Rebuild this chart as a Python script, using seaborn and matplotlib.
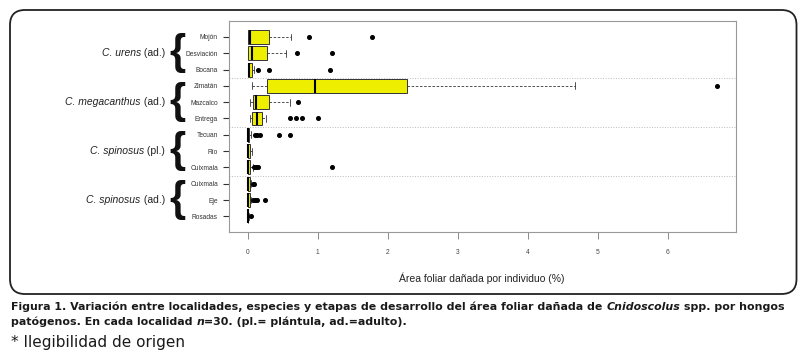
import seaborn as sns
import matplotlib.pyplot as plt
import matplotlib.patches as mpatches
import matplotlib.transforms as mtransforms
import pandas as pd

# localidades (de arriba hacia abajo) y grupo al que pertenecen
localidades = ["Mojón", "Desviación", "Bocana",
               "Zimatán", "Mazcalco", "Entrega",
               "Tecuan", "Río", "Cuixmala",
               "Cuixmala", "Eje", "Rosadas"]
grupos = ["C. urens", "C. megacanthus", "C. spinosus", "C. spinosus"]
etapas = ["(ad.)", "(ad.)", "(pl.)", "(ad.)"]
n_por_grupo = [3, 3, 3, 3]

# área foliar dañada (%) estimada por localidad
mojon = [0.0, 0.0, 0.002, 0.005, 0.01, 0.02, 0.03, 0.08, 0.18, 0.30, 0.62, 0.87, 1.77]
desviacion = [0.0, 0.0, 0.003, 0.005, 0.02, 0.04, 0.055, 0.1, 0.2, 0.27, 0.55, 0.70, 1.21]
bocana = [0.0, 0.0, 0.003, 0.006, 0.01, 0.012, 0.014, 0.017, 0.02,
          0.03, 0.04, 0.05, 0.06, 0.09, 0.14, 0.30, 1.18]
zimatan = [0.064, 0.15, 0.27, 0.6, 0.96, 1.6, 2.275, 4.67, 6.7]
mazcalco = [0.036, 0.05, 0.07, 0.09, 0.12, 0.2, 0.31, 0.61, 0.72]
entrega = [0.03, 0.035, 0.04, 0.045, 0.05, 0.055, 0.07, 0.09, 0.1, 0.11, 0.125,
           0.14, 0.16, 0.18, 0.2, 0.21, 0.26, 0.61, 0.69, 0.78, 1.0]
tecuan = [0.0, 0.0, 0.0, 0.0, 0.0, 0.0, 0.0, 0.001, 0.002, 0.003, 0.004, 0.005, 0.006,
          0.008, 0.01, 0.012, 0.015, 0.018, 0.02, 0.045, 0.10, 0.13, 0.17, 0.45, 0.61]
rio = [0.0, 0.0, 0.0, 0.005, 0.01, 0.015, 0.025, 0.04, 0.06]
cuixmala_pl = [0.0, 0.0, 0.0, 0.0, 0.0, 0.0, 0.002, 0.004, 0.006, 0.008, 0.01,
               0.015, 0.02, 0.025, 0.03, 0.035, 0.07, 0.09, 0.12, 0.15, 1.20]
cuixmala_ad = [0.0, 0.0, 0.0, 0.0, 0.004, 0.008, 0.01, 0.015, 0.02, 0.025, 0.05, 0.07, 0.09]
eje = [0.0, 0.0, 0.0, 0.0, 0.0, 0.0, 0.002, 0.004, 0.006, 0.008, 0.01,
       0.013, 0.016, 0.019, 0.022, 0.025, 0.05, 0.08, 0.10, 0.13, 0.24]
rosadas = [0.0, 0.0, 0.0, 0.002, 0.003, 0.005, 0.01, 0.02, 0.04]

valores = [mojon, desviacion, bocana, zimatan, mazcalco, entrega,
           tecuan, rio, cuixmala_pl, cuixmala_ad, eje, rosadas]

xticks = [0, 1, 2, 3, 4, 5, 6]
xlabel = "Área foliar dañada por individuo (%)"

# tabla larga (clave única porque Cuixmala se repite)
claves = [f"{i}_{loc}" for i, loc in enumerate(localidades)]
df = pd.DataFrame({"clave": [c for c, v in zip(claves, valores) for _ in v],
                   "area": [x for v in valores for x in v]})

sns.set_style("white")
plt.rcParams["font.family"] = ["Liberation Sans", "DejaVu Sans"]

fig = plt.figure(figsize=(8.07, 3.6), dpi=100)
ax = fig.add_axes([229 / 807, 1 - 232.3 / 360, (735.5 - 229) / 807, (232.3 - 21) / 360])

sns.boxplot(data=df, x="area", y="clave", order=claves, orient="h", ax=ax,
            color="#EEEE00", saturation=1, width=0.85, linecolor="#333333", linewidth=0.7,
            fliersize=2.6,
            flierprops=dict(marker="o", markerfacecolor="black", markeredgecolor="black"),
            whiskerprops=dict(linestyle=(0, (3, 2)), linewidth=0.6),
            capprops=dict(linewidth=0.6),
            medianprops=dict(color="black", linewidth=1.5))

ax.set_xlim(-0.268, 6.968)
ax.set_ylim(len(claves) - 1 + 0.98, -0.98)

# separadores punteados entre grupos
pos = 0
for n in n_por_grupo[:-1]:
    pos += n
    ax.axhline(pos - 0.5, color="#bbbbbb", linestyle=":", linewidth=0.7, zorder=0)

for s in ax.spines.values():
    s.set_color("#999999")
    s.set_linewidth(0.8)

ax.set_xticks(xticks)
ax.set_xticklabels([str(t) for t in xticks], fontsize=4.8, color="#444444")
ax.set_yticks(range(len(claves)))
ax.set_yticklabels(localidades, fontsize=4.8, color="#333333")
ax.tick_params(axis="x", direction="out", length=5, width=0.6, color="#777777", pad=7, bottom=True)
ax.tick_params(axis="y", direction="out", length=4, width=0.8, color="#333333", pad=4, left=True)
ax.set_xlabel("")
ax.set_ylabel("")

fig.text(482 / 807, 1 - 278 / 360, xlabel, ha="center", va="center", fontsize=7.5, color="#222222")

renderer = fig.canvas.get_renderer()

# etiquetas de grupo con llaves
pos = 0
for g, e, n in zip(grupos, etapas, n_por_grupo):
    yc = ax.transData.transform((0, pos + (n - 1) / 2))[1] / fig.bbox.height
    pos += n
    t = fig.text(165 / 807, yc, " " + e, ha="right", va="center", fontsize=7.5, color="#222222")
    w = t.get_window_extent(renderer=renderer).width / fig.bbox.width
    fig.text(165 / 807 - w, yc, g, ha="right", va="center", fontsize=7.5,
             fontstyle="italic", color="#222222")
    fig.text(177 / 807, yc, "{", ha="center", va="center", fontsize=30,
             fontweight="bold", color="#111111")

# marco redondeado
marco = mpatches.FancyBboxPatch((10, 360 - 294), 786.5, 284,
                                boxstyle="round,pad=0,rounding_size=15",
                                transform=mtransforms.IdentityTransform(),
                                fill=False, linewidth=1.3, edgecolor="#222222")
fig.patches.append(marco)


def texto_en_partes(x, y, partes, **kw):
    for s, estilo in partes:
        t = fig.text(x, y, s, fontstyle=estilo, va="center", **kw)
        x += t.get_window_extent(renderer=renderer).width / fig.bbox.width


cap = dict(family=["DejaVu Sans"], fontweight="bold", fontsize=7.95, color="#1a1a1a")
texto_en_partes(11 / 807, 1 - 307 / 360,
                [("Figura 1. Variación entre localidades, especies y etapas de desarrollo del área foliar dañada de ", "normal"),
                 ("Cnidoscolus", "italic"),
                 (" spp. por hongos", "normal")], **cap)
texto_en_partes(11 / 807, 1 - 322 / 360,
                [("patógenos. En cada localidad ", "normal"),
                 ("n", "italic"),
                 ("=30. (pl.= plántula, ad.=adulto).", "normal")], **cap)
fig.text(11 / 807, 1 - 342 / 360, "* Ilegibilidad de origen", va="center",
         family=["DejaVu Sans"], fontsize=11, color="#1a1a1a")

fig.savefig("out.png", dpi=100)
